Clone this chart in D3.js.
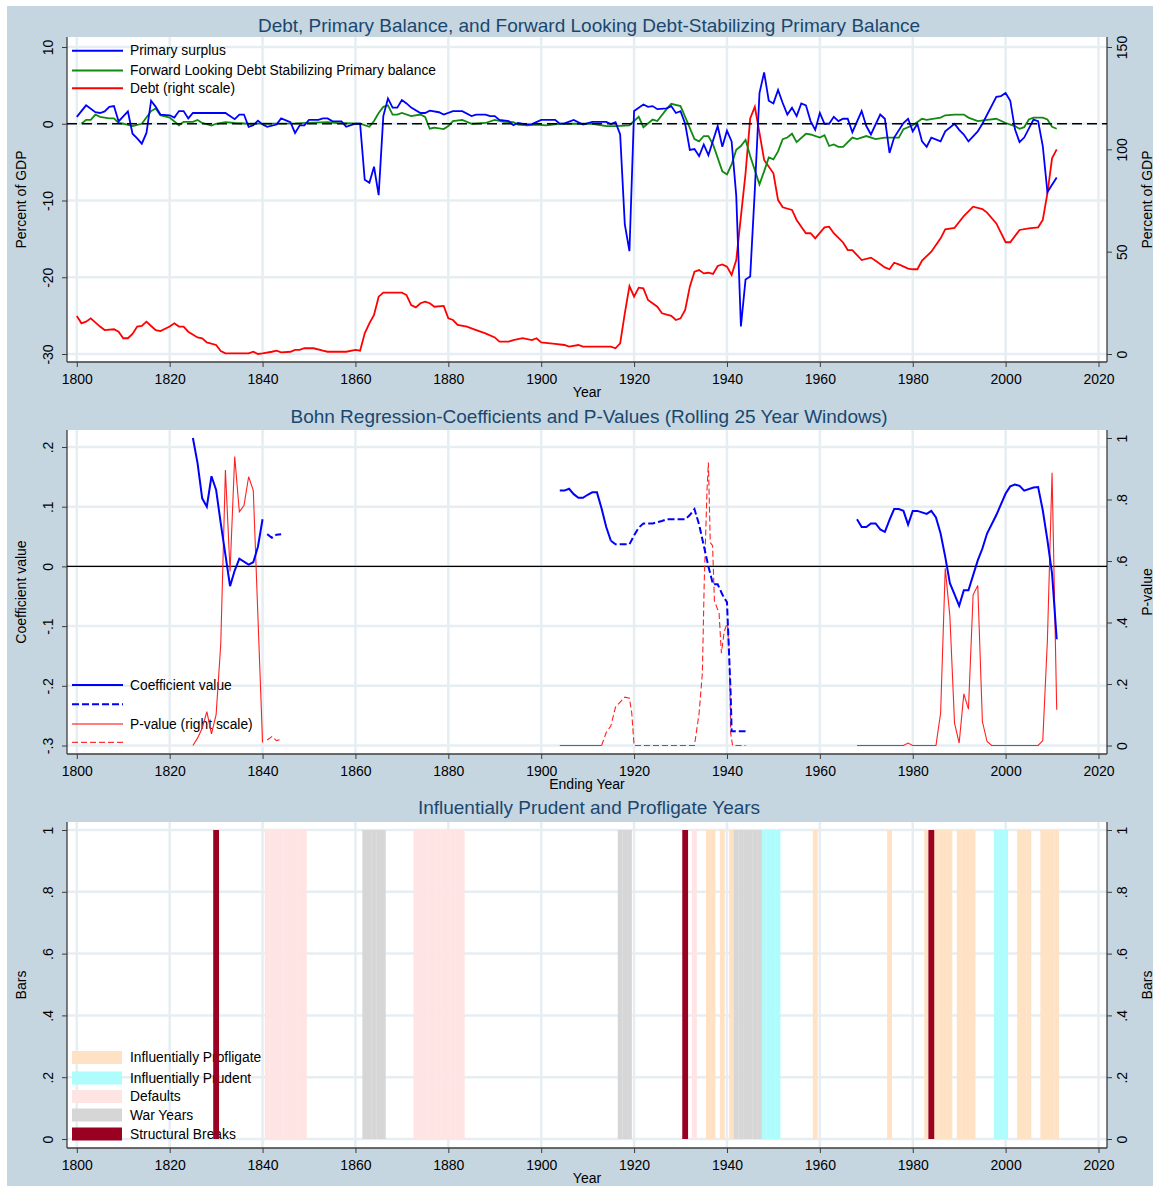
<!DOCTYPE html>
<html>
<head>
<meta charset="utf-8">
<script src="https://cdn.jsdelivr.net/npm/d3@7"></script>
<style>
  body { margin: 0; background: #fff; }
  svg { display: block; font-family: "Liberation Sans", Arial, sans-serif; }
</style>
</head>
<body>
<svg id="chart" width="1159" height="1191"></svg>
<script>
// ---- data ----
const yearTicks = [1800, 1820, 1840, 1860, 1880, 1900, 1920, 1940, 1960, 1980, 2000, 2020];

// panel 1: percent of GDP
const surplus = [[1800,0.9],[1802,2.4],[1804,1.5],[1805,1.4],[1806,1.6],[1807,2.2],[1808,2.3],[1809,0.3],[1811,1.6],[1812,-1.3],[1813,-1.9],[1814,-2.6],[1815,-1.2],[1816,3.0],[1817,2.2],[1818,1.2],[1820,1.1],[1821,0.8],[1822,1.65],[1823,1.65],[1824,0.7],[1825,1.4],[1832,1.4],[1834,0.6],[1835,1.2],[1836,1.2],[1837,-0.4],[1838,-0.2],[1839,0.4],[1840,-0.1],[1841,-0.4],[1843,-0.1],[1844,0.7],[1846,0.2],[1847,-1.2],[1848,-0.2],[1849,-0.2],[1850,0.5],[1852,0.5],[1853,0.7],[1854,0.7],[1855,0.35],[1857,0.3],[1858,-0.4],[1860,0],[1861,0],[1862,-7.3],[1863,-7.7],[1864,-5.6],[1865,-9.3],[1866,1.0],[1867,3.3],[1868,2.1],[1869,2.1],[1870,3.1],[1871,2.65],[1872,2.1],[1874,1.4],[1875,1.4],[1876,1.7],[1878,1.5],[1879,1.2],[1881,1.65],[1883,1.65],[1885,1.0],[1886,1.2],[1888,1.2],[1889,1.0],[1890,1.0],[1891,0.5],[1893,0.35],[1894,-0.2],[1895,0.1],[1897,-0.1],[1898,-0.05],[1900,0.5],[1903,0.5],[1904,0],[1905,0.05],[1907,0.5],[1909,-0.1],[1911,0.25],[1914,0.25],[1915,-0.05],[1916,0.2],[1917,-1.4],[1918,-13.1],[1919,-16.6],[1920,1.65],[1922,2.5],[1923,2.2],[1924,2.3],[1925,1.9],[1927,2.0],[1928,2.3],[1929,1.4],[1930,1.65],[1931,0],[1932,-3.4],[1933,-3.3],[1934,-4.2],[1935,-2.7],[1936,-4.1],[1938,-0.3],[1939,-3.0],[1940,-0.9],[1941,-2.3],[1942,-9.4],[1943,-26.4],[1944,-20.3],[1945,-19.9],[1946,-8.6],[1947,4.0],[1948,6.7],[1949,3.0],[1950,2.65],[1951,4.4],[1952,2.7],[1953,1.2],[1954,2.1],[1955,1.0],[1956,2.65],[1957,2.4],[1958,0.35],[1959,-0.8],[1960,1.4],[1961,0],[1962,0],[1963,0.9],[1964,0.35],[1965,0.65],[1966,0.65],[1967,-1.1],[1969,1.65],[1970,-0.3],[1971,-1.4],[1973,1.2],[1974,0.65],[1975,-3.8],[1976,-1.8],[1978,0.1],[1979,0.65],[1980,-1.0],[1981,0],[1982,-2.3],[1983,-3.0],[1984,-1.8],[1986,-2.3],[1987,-1.0],[1989,0],[1990,-0.8],[1991,-1.4],[1992,-2.3],[1994,-1.0],[1995,0],[1998,3.5],[1999,3.6],[2000,4.0],[2001,3.0],[2002,-0.7],[2003,-2.4],[2004,-1.8],[2006,0.55],[2007,0.35],[2008,-2.9],[2009,-8.9],[2011,-7.0]];

const fwdStab = [[1801,0],[1802,0.5],[1803,0.5],[1804,1.2],[1805,0.9],[1807,0.7],[1808,0.7],[1809,0.1],[1810,0],[1812,-0.3],[1814,0],[1816,1.65],[1817,2.0],[1818,1.1],[1820,0.8],[1822,-0.2],[1823,0.25],[1825,0.25],[1826,0.5],[1827,0.1],[1829,-0.25],[1830,0],[1832,0.2],[1834,0.1],[1837,0],[1847,0.05],[1854,0.2],[1856,0.1],[1861,0],[1863,-0.4],[1864,0.35],[1865,1.4],[1866,2.2],[1867,2.4],[1868,1.2],[1869,1.2],[1870,1.4],[1872,1.0],[1874,1.2],[1875,0.9],[1876,-0.65],[1877,-0.5],[1879,-0.7],[1880,-0.3],[1881,0.35],[1883,0.5],[1885,0],[1888,0.1],[1890,0.5],[1892,0.25],[1894,0.2],[1895,-0.1],[1897,-0.2],[1899,-0.1],[1901,-0.2],[1904,0],[1911,0],[1914,-0.3],[1916,-0.3],[1919,-0.2],[1921,0.9],[1922,-0.45],[1924,0.55],[1925,0.35],[1927,1.9],[1928,2.6],[1930,2.3],[1931,0.9],[1933,-2.0],[1934,-2.3],[1935,-1.6],[1936,-1.6],[1937,-2.7],[1939,-6.2],[1940,-6.6],[1941,-5.3],[1942,-3.4],[1943,-2.9],[1944,-2.1],[1945,-4.2],[1947,-7.9],[1948,-6.2],[1949,-4.4],[1950,-4.65],[1951,-3.6],[1952,-2.0],[1953,-1.8],[1954,-1.3],[1955,-2.4],[1957,-1.3],[1958,-1.4],[1960,-1.8],[1961,-1.5],[1962,-2.9],[1963,-2.7],[1964,-3.0],[1965,-3.0],[1967,-1.8],[1968,-2.0],[1970,-1.6],[1972,-2.0],[1974,-1.8],[1977,-1.8],[1978,-0.7],[1980,-0.2],[1982,0.65],[1983,0.5],[1986,0.8],[1987,1.1],[1989,1.2],[1991,1.2],[1992,0.8],[1994,0.35],[1996,0.5],[1998,0.65],[2000,0.1],[2002,-0.3],[2003,-0.65],[2004,-0.45],[2005,0.55],[2006,0.8],[2008,0.8],[2009,0.55],[2010,-0.4],[2011,-0.65]];

const debt = [[1800,18.6],[1801,15.0],[1802,15.8],[1803,17.4],[1805,13.4],[1806,11.7],[1808,12.1],[1809,10.9],[1810,7.7],[1811,7.7],[1812,9.8],[1813,13.4],[1814,13.7],[1815,15.8],[1816,13.7],[1817,11.7],[1818,11.2],[1820,13.4],[1821,15.0],[1822,13.4],[1823,13.4],[1824,10.9],[1826,8.1],[1827,7.7],[1828,5.7],[1830,4.4],[1831,1.5],[1832,0.3],[1837,0.3],[1838,1.1],[1839,0],[1840,0.3],[1842,1.1],[1843,1.6],[1844,0.8],[1846,1.1],[1847,2.0],[1848,2.0],[1849,2.8],[1851,2.8],[1853,1.6],[1854,1.1],[1858,1.1],[1860,2.0],[1861,1.6],[1862,10.1],[1863,15.0],[1864,19.1],[1865,28.0],[1866,30.0],[1870,30.0],[1871,28.8],[1872,23.9],[1873,22.8],[1874,24.8],[1875,25.6],[1876,24.8],[1877,23.1],[1879,23.5],[1880,17.4],[1881,16.6],[1882,14.2],[1884,13.4],[1886,11.7],[1888,10.1],[1890,8.1],[1891,6.0],[1893,6.0],[1894,6.8],[1896,7.7],[1898,6.8],[1899,7.7],[1900,5.7],[1903,4.9],[1905,4.4],[1906,3.6],[1908,4.4],[1909,3.6],[1915,3.6],[1916,2.8],[1917,5.2],[1918,19.9],[1919,33.2],[1920,28.0],[1921,32.4],[1922,32.1],[1923,26.4],[1925,23.1],[1926,19.9],[1928,18.6],[1929,16.6],[1930,17.4],[1931,21.5],[1932,32.9],[1933,40.2],[1934,41.0],[1935,39.4],[1936,39.7],[1937,39.1],[1938,43.0],[1939,43.8],[1940,42.7],[1941,38.6],[1942,45.9],[1943,67.1],[1944,88.3],[1945,115.1],[1946,120.8],[1947,108.0],[1948,94.8],[1950,88.3],[1951,75.2],[1952,71.7],[1954,70.4],[1955,65.5],[1956,62.2],[1957,59.0],[1958,59.0],[1959,56.5],[1961,61.9],[1962,62.2],[1963,59.0],[1965,54.5],[1966,50.8],[1967,50.8],[1969,45.9],[1971,47.1],[1972,45.6],[1974,42.3],[1975,41.4],[1976,44.6],[1977,43.8],[1979,41.7],[1980,41.4],[1981,41.4],[1982,45.6],[1984,50.0],[1986,56.5],[1987,60.9],[1989,61.6],[1991,67.4],[1993,72.0],[1995,70.8],[1996,69.1],[1998,63.8],[2000,54.6],[2001,54.6],[2003,60.6],[2005,61.4],[2007,61.9],[2008,65.5],[2009,78.5],[2010,95.6],[2011,100.0]];

// panel 2: rolling regressions (each run is drawn as its own line)
const coefSolid = [
  [[1825,0.215],[1826,0.173],[1827,0.114],[1828,0.100],[1829,0.151],[1830,0.128],[1831,0.072],[1833,-0.033],[1834,-0.007],[1835,0.013],[1837,0.003],[1838,0.007],[1839,0.033],[1840,0.079]],
  [[1904,0.127],[1905,0.127],[1906,0.130],[1907,0.121],[1908,0.115],[1909,0.115],[1910,0.120],[1911,0.124],[1912,0.124],[1913,0.097],[1914,0.066],[1915,0.043]],
  [[1968,0.079],[1969,0.066],[1970,0.066],[1971,0.072],[1972,0.072],[1973,0.062],[1974,0.058],[1975,0.078],[1976,0.096],[1977,0.096],[1978,0.093],[1979,0.070],[1980,0.093],[1981,0.093],[1983,0.088],[1984,0.093],[1985,0.082],[1986,0.055],[1987,0.016],[1988,-0.028],[1989,-0.047],[1990,-0.066],[1991,-0.040],[1992,-0.040],[1994,0.010],[1995,0.030],[1996,0.055],[1998,0.086],[2000,0.122],[2001,0.134],[2002,0.137],[2003,0.135],[2004,0.127],[2006,0.132],[2007,0.133],[2008,0.094],[2009,0.044],[2010,-0.012],[2011,-0.122]]
];
const coefDashed = [
  [[1841,0.054],[1842,0.048],[1843,0.053],[1844,0.054]],
  [[1915,0.043],[1916,0.037],[1919,0.037],[1920,0.052],[1921,0.065],[1922,0.072],[1924,0.072],[1926,0.076],[1927,0.079],[1931,0.079],[1932,0.086],[1933,0.096],[1934,0.070],[1935,0.035],[1936,0.000],[1937,-0.030],[1938,-0.030],[1939,-0.047],[1940,-0.060],[1940.4,-0.136],[1940.8,-0.215],[1941,-0.276],[1944,-0.276]]
];
const pSolid = [
  [[1825,0.0],[1826,0.024],[1827,0.056],[1828,0.11],[1829,0.038],[1830,0.10],[1831,0.33],[1832,0.896],[1833,0.566],[1834,0.94],[1835,0.76],[1836,0.78],[1837,0.874],[1838,0.83],[1840,0.01]],
  [[1904,0],[1913,0]],
  [[1968,0],[1978,0],[1979,0.008],[1980,0],[1985,0],[1986,0.105],[1987,0.576],[1988,0.42],[1989,0.073],[1990,0.008],[1991,0.168],[1992,0.118],[1993,0.49],[1994,0.52],[1995,0.078],[1996,0.013],[1997,0],[2007,0],[2008,0.016],[2009,0.343],[2010,0.887],[2011,0.116]]
];
const pDashed = [
  [[1841,0.018],[1842,0.029],[1843,0.016],[1844,0.02]],
  [[1913,0],[1914,0.042],[1915,0.064],[1916,0.125],[1918,0.157],[1919,0.154],[1919.5,0.105],[1920,0],[1933,0],[1934,0.105],[1934.7,0.235],[1935.1,0.53],[1935.7,0.83],[1936,0.92],[1936.4,0.66],[1936.9,0.65],[1937.3,0.47],[1938.3,0.43],[1938.8,0.30],[1939.4,0.37],[1940.1,0.40],[1940.5,0.30],[1940.8,0.04],[1941.2,0],[1944,0]]
];

// panel 3: indicator years
const profligateYears = [1936, 1937, 1939, 1941, 1959, 1975, 1983, 1984, 1985, 1986, 1987, 1988, 1990, 1991, 1992, 1993, 2003, 2004, 2005, 2008, 2009, 2010, 2011];
const prudentYears = [1948, 1949, 1950, 1951, 1998, 1999, 2000];
const defaultYears = [1841, 1842, 1843, 1844, 1845, 1846, 1847, 1848, 1849, 1873, 1874, 1875, 1876, 1877, 1878, 1879, 1880, 1881, 1882, 1883, 1933];
const warYears = [1862, 1863, 1864, 1865, 1866, 1917, 1918, 1919, 1942, 1943, 1944, 1945, 1946, 1947];
const breakYears = [1830, 1931, 1984];

// tick labels
const p1LeftTicks = [-30, -20, -10, 0, 10];
const p1RightTicks = [0, 50, 100, 150];
const p2LeftTicks = [-0.3, -0.2, -0.1, 0, 0.1, 0.2];
const p2LeftLabels = ["-.3", "-.2", "-.1", "0", ".1", ".2"];
const unitTicks = [0, 0.2, 0.4, 0.6, 0.8, 1];
const unitLabels = ["0", ".2", ".4", ".6", ".8", "1"];

// ---- drawing ----
const svg = d3.select("#chart");
const L = 67, R = 1107;
const gridColor = "#e6eef2", axisColor = "#3c3c3c", titleColor = "#1a476f";
const x = d3.scaleLinear().domain([1800, 2020]).range([76.8, 1098.5]);

svg.append("rect").attr("x", 7).attr("y", 6).attr("width", 1146).attr("height", 1180).attr("fill", "#c5d6e0");

function frame(p) {
  svg.append("rect").attr("x", L).attr("y", p.top).attr("width", R - L).attr("height", p.bottom - p.top).attr("fill", "#fff");

  const grid = svg.append("g").attr("stroke", gridColor).attr("stroke-width", 2.5);
  grid.selectAll("line.h").data(p.lTicks).join("line").attr("class", "h")
    .attr("x1", L).attr("x2", R).attr("y1", d => p.yL(d)).attr("y2", d => p.yL(d));
  grid.selectAll("line.v").data(yearTicks).join("line").attr("class", "v")
    .attr("x1", d => x(d)).attr("x2", d => x(d)).attr("y1", p.top).attr("y2", p.bottom);

  const styleAxis = g => {
    g.attr("font-family", null).attr("font-size", 14);
    g.select(".domain").remove();
    g.selectAll(".tick line").attr("stroke", axisColor);
    g.selectAll(".tick text").attr("fill", "#000");
  };

  svg.append("g").attr("transform", `translate(${L},0)`)
    .call(d3.axisLeft(p.yL).tickValues(p.lTicks).tickFormat((d, i) => p.lLabels[i]).tickSize(5))
    .call(styleAxis)
    .call(g => g.selectAll(".tick text").attr("x", null).attr("dy", null)
      .attr("text-anchor", "middle").attr("transform", "translate(-14,0) rotate(-90)"));

  svg.append("g").attr("transform", `translate(${R},0)`)
    .call(d3.axisRight(p.yR).tickValues(p.rTicks).tickFormat((d, i) => p.rLabels[i]).tickSize(5))
    .call(styleAxis)
    .call(g => g.selectAll(".tick text").attr("x", null).attr("dy", null)
      .attr("text-anchor", "middle").attr("transform", "translate(20,0) rotate(-90)"));

  svg.append("g").attr("transform", `translate(0,${p.bottom})`)
    .call(d3.axisBottom(x).tickValues(yearTicks).tickFormat(d3.format("d")).tickSize(5))
    .call(styleAxis)
    .call(g => g.selectAll(".tick text").attr("dy", null).attr("y", 22));

  const axes = svg.append("g").attr("stroke", axisColor).attr("stroke-width", 1.3);
  axes.append("line").attr("x1", L).attr("x2", L).attr("y1", p.top).attr("y2", p.bottom);
  axes.append("line").attr("x1", R).attr("x2", R).attr("y1", p.top).attr("y2", p.bottom);
  axes.append("line").attr("x1", L).attr("x2", R).attr("y1", p.bottom).attr("y2", p.bottom);

  svg.append("text").attr("x", 589).attr("y", p.titleY).attr("text-anchor", "middle")
    .attr("font-size", 19).attr("fill", titleColor).text(p.title);
  svg.append("text").attr("x", 587).attr("y", p.xTitleY).attr("text-anchor", "middle")
    .attr("font-size", 14).text(p.xTitle);
  const mid = (p.top + p.bottom) / 2;
  svg.append("text").attr("text-anchor", "middle").attr("font-size", 14)
    .attr("transform", `translate(26,${mid}) rotate(-90)`).text(p.lTitle);
  svg.append("text").attr("text-anchor", "middle").attr("font-size", 14)
    .attr("transform", `translate(1152,${mid}) rotate(-90)`).text(p.rTitle);
}

function legend(items, y0s) {
  const g = svg.append("g");
  items.forEach((it, i) => {
    const y = y0s[i];
    if (it.swatch) {
      g.append("rect").attr("x", 72).attr("y", y - 6.5).attr("width", 50).attr("height", 13).attr("fill", it.swatch);
    } else {
      g.append("line").attr("x1", 72).attr("x2", 123).attr("y1", y).attr("y2", y)
        .attr("stroke", it.color).attr("stroke-width", it.width).attr("stroke-dasharray", it.dash || null);
    }
    if (it.label) g.append("text").attr("x", 130).attr("y", y + 4.5).attr("font-size", 13.8).text(it.label);
  });
}

// ---------- panel 1 ----------
const y1 = d3.scaleLinear().domain([-30, 10]).range([354, 47]);
const y1r = d3.scaleLinear().domain([0, 150]).range([354, 47]);
frame({
  top: 37, bottom: 362, yL: y1, yR: y1r,
  lTicks: p1LeftTicks, lLabels: p1LeftTicks.map(String),
  rTicks: p1RightTicks, rLabels: p1RightTicks.map(String),
  title: "Debt, Primary Balance, and Forward Looking Debt-Stabilizing Primary Balance", titleY: 31.5,
  xTitle: "Year", xTitleY: 397, lTitle: "Percent of GDP", rTitle: "Percent of GDP"
});
legend([
  { color: "#0000ff", width: 2, label: "Primary surplus" },
  { color: "#118a11", width: 2, label: "Forward Looking Debt Stabilizing Primary balance" },
  { color: "#ff0000", width: 2, label: "Debt (right scale)" }
], [50.7, 70.5, 88.3]);

const line1 = d3.line().x(d => x(d[0])).y(d => y1(d[1]));
const line1r = d3.line().x(d => x(d[0])).y(d => y1r(d[1]));
svg.append("path").datum(debt).attr("d", line1r).attr("fill", "none").attr("stroke", "#ff0000").attr("stroke-width", 1.8);
svg.append("path").datum(fwdStab).attr("d", line1).attr("fill", "none").attr("stroke", "#118a11").attr("stroke-width", 1.8);
svg.append("path").datum(surplus).attr("d", line1).attr("fill", "none").attr("stroke", "#0000ff").attr("stroke-width", 1.8);
svg.append("line").attr("x1", L).attr("x2", R).attr("y1", y1(0)).attr("y2", y1(0))
  .attr("stroke", "#000").attr("stroke-width", 1.6).attr("stroke-dasharray", "10,5");

// ---------- panel 2 ----------
const y2 = d3.scaleLinear().domain([-0.3, 0.2]).range([745.5, 447]);
const y2r = d3.scaleLinear().domain([0, 1]).range([745.5, 438]);
frame({
  top: 430, bottom: 754, yL: y2, yR: y2r,
  lTicks: p2LeftTicks, lLabels: p2LeftLabels,
  rTicks: unitTicks, rLabels: unitLabels,
  title: "Bohn Regression-Coefficients and P-Values (Rolling 25 Year Windows)", titleY: 423,
  xTitle: "Ending Year", xTitleY: 789, lTitle: "Coefficient value", rTitle: "P-value"
});
legend([
  { color: "#0000ff", width: 2, label: "Coefficient value" },
  { color: "#0000ff", width: 2, dash: "7,3" },
  { color: "#ff0000", width: 1, label: "P-value (right scale)" },
  { color: "#ff0000", width: 1, dash: "6,3" }
], [685, 704.3, 724, 742.3]);

svg.append("line").attr("x1", L).attr("x2", R).attr("y1", y2(0)).attr("y2", y2(0))
  .attr("stroke", "#000").attr("stroke-width", 1.2);
const line2 = d3.line().x(d => x(d[0])).y(d => y2(d[1]));
const line2r = d3.line().x(d => x(d[0])).y(d => y2r(d[1]));
svg.append("g").selectAll("path").data(pSolid).join("path").attr("d", line2r)
  .attr("fill", "none").attr("stroke", "#ff2020").attr("stroke-width", 1.1);
svg.append("g").selectAll("path").data(pDashed).join("path").attr("d", line2r)
  .attr("fill", "none").attr("stroke", "#ff2020").attr("stroke-width", 1.1).attr("stroke-dasharray", "6,3");
svg.append("g").selectAll("path").data(coefSolid).join("path").attr("d", line2)
  .attr("fill", "none").attr("stroke", "#0000ff").attr("stroke-width", 2);
svg.append("g").selectAll("path").data(coefDashed).join("path").attr("d", line2)
  .attr("fill", "none").attr("stroke", "#0000ff").attr("stroke-width", 2).attr("stroke-dasharray", "7,3");

// ---------- panel 3 ----------
const y3 = d3.scaleLinear().domain([0, 1]).range([1139, 830]);
frame({
  top: 822, bottom: 1148, yL: y3, yR: y3,
  lTicks: unitTicks, lLabels: unitLabels,
  rTicks: unitTicks, rLabels: unitLabels,
  title: "Influentially Prudent and Profligate Years", titleY: 814,
  xTitle: "Year", xTitleY: 1183, lTitle: "Bars", rTitle: "Bars"
});
const barSets = [
  { years: profligateYears, color: "#ffe1c4", w: 1.03, label: "Influentially Profligate" },
  { years: prudentYears, color: "#aefcfc", w: 1.03, label: "Influentially Prudent" },
  { years: defaultYears, color: "#ffe4e4", w: 1.03, label: "Defaults" },
  { years: warYears, color: "#d6d6d6", w: 1.03, label: "War Years" },
  { years: breakYears, color: "#990022", w: 1.25, label: "Structural Breaks" }
];
legend(barSets.map(s => ({ swatch: s.color, label: s.label })), [1057.5, 1078, 1096.5, 1115, 1134]);
barSets.forEach(s => {
  svg.append("g").selectAll("rect").data(s.years).join("rect")
    .attr("x", d => x(d - s.w / 2)).attr("width", d => x(d + s.w / 2) - x(d - s.w / 2))
    .attr("y", y3(1)).attr("height", y3(0) - y3(1)).attr("fill", s.color);
});
</script>
</body>
</html>
